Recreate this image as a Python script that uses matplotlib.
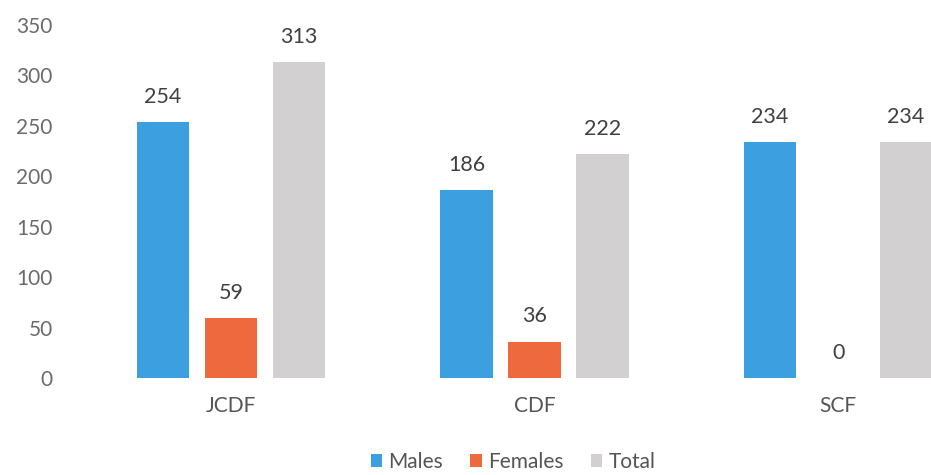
import numpy as np
import matplotlib

matplotlib.use("Agg")
import matplotlib.pyplot as plt

# data
categories = ["JCDF", "CDF", "SCF"]
males = [254, 186, 234]
females = [59, 36, 0]
total = [313, 222, 234]
series_names = ["Males", "Females", "Total"]
colors = ["#3b9fe0", "#ee6a3e", "#d2d0d1"]

plt.rcParams["font.family"] = ["Lato", "DejaVu Sans"]

fig = plt.figure(figsize=(9.31, 4.75), dpi=100)
ax = fig.add_axes([79 / 931, 97 / 475, 1 - 79 / 931, 353 / 475])

x = np.arange(len(categories))
step = 0.224
width = 0.172
for i, (name, vals, col) in enumerate(zip(series_names, [males, females, total], colors)):
    pos = x + (i - 1) * step
    ax.bar(pos, vals, width=width, color=col, label=name, zorder=2)
    for px, v in zip(pos, vals):
        ax.annotate(str(v), (px, v), xytext=(0, 11), textcoords="offset points",
                    ha="center", va="bottom", fontsize=15.5, color="#404040")

ax.set_xlim(-0.5, 2.306)
ax.set_ylim(0, 350)
ax.set_yticks(range(0, 351, 50))
ax.set_xticks(x)
ax.set_xticklabels(categories)
ax.tick_params(axis="y", length=0, pad=19, labelsize=15, labelcolor="#6b6b6b")
ax.tick_params(axis="x", length=0, pad=13, labelsize=15, labelcolor="#555555")
for s in ax.spines.values():
    s.set_visible(False)

leg = fig.legend(loc="center", bbox_to_anchor=(513 / 931, 1 - 462 / 475), ncol=3,
                 frameon=False, fontsize=15, handlelength=0.55, handleheight=0.55,
                 handletextpad=0.3, columnspacing=1.3)
for t in leg.get_texts():
    t.set_color("#555555")

fig.savefig("out.png", dpi=100)
